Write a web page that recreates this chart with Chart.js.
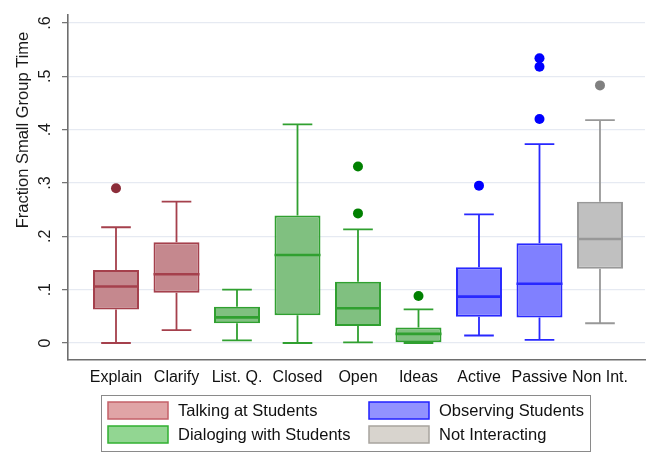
<!DOCTYPE html>
<html>
<head>
<meta charset="utf-8">
<script src="https://cdn.jsdelivr.net/npm/chart.js@4/dist/chart.umd.min.js"></script>
<style>
  html, body { margin: 0; padding: 0; background: #fff; }
  #wrap { position: relative; width: 650px; height: 452px; }
</style>
</head>
<body>
<div id="wrap"><canvas id="c"></canvas></div>
<script>
// Teacher activity categories and their box-plot summaries (fraction of small-group time)
const categories = ['Explain', 'Clarify', 'List. Q.', 'Closed', 'Open', 'Ideas', 'Active', 'Passive', 'Non Int.'];
const groupOf    = [0, 0, 1, 1, 1, 1, 2, 2, 3];
const whiskerLow  = [0.000, 0.024, 0.005, 0.000, 0.001, 0.000, 0.014, 0.006, 0.037];
const lowerQuart  = [0.063, 0.094, 0.037, 0.052, 0.032, 0.000, 0.049, 0.048, 0.139];
const medians     = [0.106, 0.129, 0.048, 0.165, 0.065, 0.017, 0.087, 0.111, 0.195];
const upperQuart  = [0.137, 0.189, 0.068, 0.239, 0.115, 0.029, 0.142, 0.187, 0.265];
const whiskerHigh = [0.217, 0.265, 0.100, 0.410, 0.213, 0.063, 0.241, 0.373, 0.418];
const outliers    = [[0.290], [], [], [], [0.331, 0.243], [0.088], [0.295], [0.534, 0.518, 0.420], [0.483]];

const yTicks = [0, 0.1, 0.2, 0.3, 0.4, 0.5, 0.6];
const yTickLabels = ['0', '.1', '.2', '.3', '.4', '.5', '.6'];
const yTitle = 'Fraction Small Group Time';

// Legend groups (left column: first two, right column: last two)
const groupNames = ['Talking at Students', 'Dialoging with Students', 'Observing Students', 'Not Interacting'];

// Styling per group
const boxFill    = ['rgb(197,136,142)', 'rgb(128,192,128)', 'rgb(128,128,255)', 'rgb(192,192,192)'];
const boxBorder  = ['rgb(165,64,76)',   'rgb(48,160,48)',   'rgb(40,40,255)',   'rgb(152,152,152)'];
const dotColor   = ['rgb(140,45,58)',   'rgb(0,128,0)',     'rgb(0,0,255)',     'rgb(128,128,128)'];
const legFill    = ['rgb(224,164,166)', 'rgb(146,214,146)', 'rgb(146,146,255)', 'rgb(216,212,206)'];
const legBorder  = ['rgb(196,96,104)',  'rgb(48,176,48)',   'rgb(32,32,255)',   'rgb(168,164,158)'];

const FONT = '"Liberation Sans", Arial, Helvetica, sans-serif';

const xs = categories.map((_, i) => i + 1);
const boxData = xs.map((x, i) => ({ x: x, y: [lowerQuart[i], upperQuart[i]] }));
const outlierData = [];
const outlierColors = [];
outliers.forEach((arr, i) => arr.forEach(v => {
  outlierData.push({ x: xs[i], y: v });
  outlierColors.push(dotColor[groupOf[i]]);
}));

// Whiskers, caps and median lines drawn through the chart's scales
const boxExtras = {
  id: 'boxExtras',
  beforeDatasetsDraw(chart) {
    const { ctx, scales: { x, y } } = chart;
    ctx.save();
    xs.forEach((v, i) => {
      const g = groupOf[i];
      const cx = x.getPixelForValue(v);
      const half = (x.getPixelForValue(v + 0.245) - cx);
      ctx.strokeStyle = boxBorder[g];
      ctx.lineWidth = 1.8;
      ctx.beginPath();
      ctx.moveTo(cx, y.getPixelForValue(upperQuart[i]));
      ctx.lineTo(cx, y.getPixelForValue(whiskerHigh[i]));
      ctx.moveTo(cx, y.getPixelForValue(lowerQuart[i]));
      ctx.lineTo(cx, y.getPixelForValue(whiskerLow[i]));
      ctx.moveTo(cx - half, y.getPixelForValue(whiskerHigh[i]));
      ctx.lineTo(cx + half, y.getPixelForValue(whiskerHigh[i]));
      ctx.moveTo(cx - half, y.getPixelForValue(whiskerLow[i]));
      ctx.lineTo(cx + half, y.getPixelForValue(whiskerLow[i]));
      ctx.stroke();
    });
    ctx.restore();
  },
  afterDatasetsDraw(chart) {
    const { ctx, scales: { y } } = chart;
    const meta = chart.getDatasetMeta(0);
    ctx.save();
    meta.data.forEach((bar, i) => {
      const g = groupOf[i];
      const half = bar.width / 2;
      const my = y.getPixelForValue(medians[i]);
      ctx.strokeStyle = boxBorder[g];
      ctx.lineWidth = 2.6;
      ctx.beginPath();
      ctx.moveTo(bar.x - half, my);
      ctx.lineTo(bar.x + half, my);
      ctx.stroke();
    });
    ctx.restore();
  }
};

// Rotated y tick labels, y-axis title and the boxed legend
const decorations = {
  id: 'decorations',
  afterDraw(chart) {
    const { ctx, scales: { y } } = chart;
    ctx.save();
    ctx.fillStyle = '#1a1a1a';
    ctx.font = '16px ' + FONT;
    ctx.textAlign = 'center';
    ctx.textBaseline = 'middle';
    yTicks.forEach((v, i) => {
      ctx.save();
      ctx.translate(46, y.getPixelForValue(v));
      ctx.rotate(-Math.PI / 2);
      ctx.fillText(yTickLabels[i], 0, 0);
      ctx.restore();
    });
    ctx.save();
    ctx.font = '16.5px ' + FONT;
    ctx.translate(23, 130);
    ctx.rotate(-Math.PI / 2);
    ctx.fillText(yTitle, 0, 0);
    ctx.restore();

    // legend frame
    const lx = 101, ly = 395, lw = 489, lh = 56;
    ctx.strokeStyle = '#8a8a8a';
    ctx.lineWidth = 1;
    ctx.strokeRect(lx + 0.5, ly + 0.5, lw, lh);
    const colX = [108, 369];
    const rowY = [402, 426];
    const swW = 60, swH = 17;
    ctx.textAlign = 'left';
    ctx.font = '16.5px ' + FONT;
    groupNames.forEach((name, g) => {
      const col = g < 2 ? 0 : 1;
      const row = g % 2;
      const sx = colX[col], sy = rowY[row];
      ctx.fillStyle = legFill[g];
      ctx.fillRect(sx, sy, swW, swH);
      ctx.strokeStyle = legBorder[g];
      ctx.lineWidth = 1.5;
      ctx.strokeRect(sx, sy, swW, swH);
      ctx.fillStyle = '#111';
      ctx.fillText(name, sx + swW + 10, sy + swH / 2 + 1);
    });
    ctx.restore();
  }
};

new Chart(document.getElementById('c'), {
  type: 'bar',
  data: {
    datasets: [
      {
        type: 'bar',
        data: boxData,
        backgroundColor: xs.map((_, i) => boxFill[groupOf[i]]),
        borderColor: xs.map((_, i) => boxBorder[groupOf[i]]),
        borderWidth: 2,
        borderSkipped: false,
        barPercentage: 0.76,
        categoryPercentage: 1.0,
        order: 2
      },
      {
        type: 'scatter',
        data: outlierData,
        pointRadius: 5,
        pointBackgroundColor: outlierColors,
        pointBorderWidth: 0,
        pointBorderColor: outlierColors,
        order: 1
      }
    ]
  },
  options: {
    responsive: true,
    maintainAspectRatio: false,
    animation: false,
    layout: { padding: { left: 0, right: 5, top: 15, bottom: 0 } },
    plugins: { legend: { display: false }, tooltip: { enabled: false } },
    scales: {
      x: {
        type: 'linear',
        offset: false,
        min: 0.2066,
        max: 9.744,
        afterBuildTicks(scale) { scale.ticks = xs.map(v => ({ value: v })); },
        afterFit(scale) { scale.height = 92; },
        ticks: {
          autoSkip: false,
          maxRotation: 0,
          padding: 8,
          color: '#111',
          font: { family: FONT, size: 16 },
          callback: (v) => categories[Math.round(v) - 1]
        },
        grid: { display: false, drawTicks: false },
        border: { display: true, color: '#6e6e6e', width: 1.6 }
      },
      y: {
        type: 'linear',
        min: -0.0319,
        max: 0.615,
        afterBuildTicks(scale) { scale.ticks = yTicks.map(v => ({ value: v })); },
        afterFit(scale) { scale.width = 68; },
        ticks: { display: false },
        grid: {
          color: 'rgb(230,234,242)',
          lineWidth: 1.3,
          drawTicks: true,
          tickLength: 6,
          tickColor: '#6e6e6e',
          tickWidth: 1.2
        },
        border: { display: true, color: '#6e6e6e', width: 1.6 }
      }
    }
  },
  plugins: [boxExtras, decorations]
});
</script>
</body>
</html>
